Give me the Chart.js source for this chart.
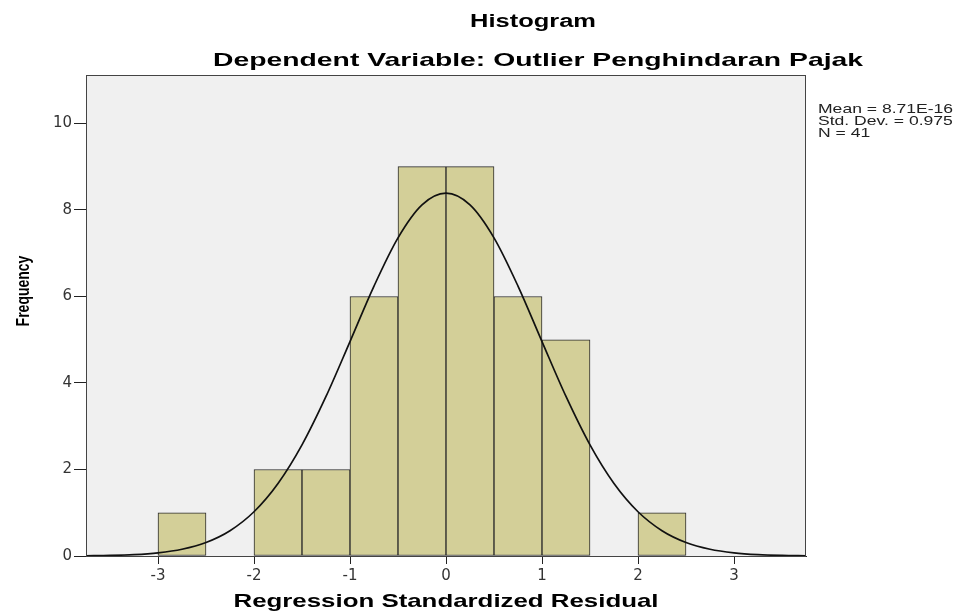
<!DOCTYPE html>
<html>
<head>
<meta charset="utf-8">
<script src="https://cdn.jsdelivr.net/npm/chart.js@4"></script>
<style>
  body { margin: 0; background: #fff; }
  canvas { display: block; }
</style>
</head>
<body>
<canvas id="histChart" width="964" height="613"></canvas>
<script>
// histogram bins (width 0.5), given by their centres
const binCenters = [-2.75, -2.25, -1.75, -1.25, -0.75, -0.25, 0.25, 0.75, 1.25, 1.75, 2.25];
const binCounts = [1, 0, 2, 2, 6, 9, 9, 6, 5, 0, 1];

// normal curve
const curveX = [-3.75, -3.5, -3.25, -3, -2.75, -2.5, -2.25, -2, -1.75, -1.5, -1.25, -1, -0.75, -0.5, -0.25, 0,
                0.25, 0.5, 0.75, 1, 1.25, 1.5, 1.75, 2, 2.25, 2.5, 2.75, 3, 3.25, 3.5, 3.75];
const curveY = [0.005, 0.013, 0.032, 0.074, 0.157, 0.313, 0.585, 1.023, 1.676, 2.569, 3.688, 4.957, 6.24, 7.355, 8.117, 8.388,
                8.117, 7.355, 6.24, 4.957, 3.688, 2.569, 1.676, 1.023, 0.585, 0.313, 0.157, 0.074, 0.032, 0.013, 0.005];

const statsLines = ['Mean = 8.71E-16', 'Std. Dev. = 0.975', 'N = 41'];
const chartTitle = 'Histogram';
const chartSubtitle = 'Dependent Variable: Outlier Penghindaran Pajak';
const xTitle = 'Regression Standardized Residual';
const yTitle = 'Frequency';

const SX = 1.35; // the picture is stretched sideways

// draw text stretched to a given width (or by SX)
function fitText(ctx, text, x, y, font, width, align) {
  ctx.save();
  ctx.font = font;
  const sx = width ? width / ctx.measureText(text).width : SX;
  ctx.translate(x, y);
  ctx.scale(sx, 1);
  ctx.textAlign = align || 'center';
  ctx.textBaseline = 'alphabetic';
  ctx.fillText(text, 0, 0);
  ctx.restore();
}

const spssDecor = {
  id: 'spssDecor',
  beforeDraw(chart) {
    const { ctx, chartArea: a } = chart;
    ctx.save();
    ctx.fillStyle = '#f0f0f0';
    ctx.fillRect(a.left, a.top, a.right - a.left, a.bottom - a.top);
    ctx.restore();
  },
  afterDraw(chart) {
    const { ctx, chartArea: a } = chart;
    ctx.save();
    ctx.strokeStyle = '#444';
    ctx.lineWidth = 1;
    ctx.strokeRect(a.left + 0.5, a.top + 0.5, a.right - a.left - 1, a.bottom - a.top);

    ctx.fillStyle = '#000';
    fitText(ctx, chartTitle, 533, 27, 'bold 18px "Liberation Sans", Arial', 126);
    fitText(ctx, chartSubtitle, 538, 66, 'bold 19px "Liberation Sans", Arial', 650);
    fitText(ctx, xTitle, 446, 607, 'bold 19px "Liberation Sans", Arial', 425);

    // y axis title, rotated
    ctx.save();
    ctx.font = 'bold 14px "Liberation Sans", Arial';
    ctx.translate(29, 291);
    ctx.scale(SX, 1);
    ctx.rotate(-Math.PI / 2);
    ctx.textAlign = 'center';
    ctx.textBaseline = 'alphabetic';
    ctx.fillText(yTitle, 0, 0);
    ctx.restore();

    ctx.fillStyle = '#222';
    statsLines.forEach((s, i) => {
      fitText(ctx, s, 818, 113 + i * 12, '13px "Liberation Sans", Arial', 0, 'left');
    });
    ctx.restore();
  }
};

new Chart(document.getElementById('histChart'), {
  type: 'bar',
  data: {
    datasets: [
      {
        type: 'line',
        data: curveX.map((x, i) => ({ x, y: curveY[i] })),
        borderColor: '#111',
        borderWidth: 1.7,
        pointRadius: 0,
        cubicInterpolationMode: 'monotone',
        fill: false
      },
      {
        type: 'bar',
        data: binCenters.map((x, i) => ({ x, y: binCounts[i] })),
        backgroundColor: '#d3cf98',
        borderColor: '#2a2a2a',
        borderWidth: 1,
        borderSkipped: false,
        barPercentage: 1,
        categoryPercentage: 1,
        grouped: false
      }
    ]
  },
  options: {
    responsive: false,
    animation: false,
    layout: { padding: { top: 75, right: 158, bottom: 0, left: 0 } },
    plugins: {
      legend: { display: false },
      tooltip: { enabled: false },
      title: { display: false }
    },
    scales: {
      x: {
        type: 'linear',
        min: -3.75,
        max: 3.75,
        offset: false,
        afterFit(scale) { scale.height = 57; },
        ticks: {
          stepSize: 1,
          includeBounds: false,
          padding: 3,
          maxRotation: 0,
          color: '#333',
          font: { family: '"DejaVu Sans"', size: 15 }
        },
        grid: { offset: false, drawOnChartArea: false, drawTicks: true, tickLength: 8, color: '#222' },
        border: { display: true, color: '#222', width: 1 }
      },
      y: {
        min: 0,
        max: 11.12,
        afterFit(scale) { scale.width = 86; },
        ticks: {
          stepSize: 2,
          includeBounds: false,
          padding: 2,
          color: '#333',
          font: { family: '"DejaVu Sans"', size: 15 }
        },
        grid: { drawOnChartArea: false, drawTicks: true, tickLength: 12, color: '#222' },
        border: { display: true, color: '#222', width: 1 }
      }
    }
  },
  plugins: [spssDecor]
});
</script>
</body>
</html>
